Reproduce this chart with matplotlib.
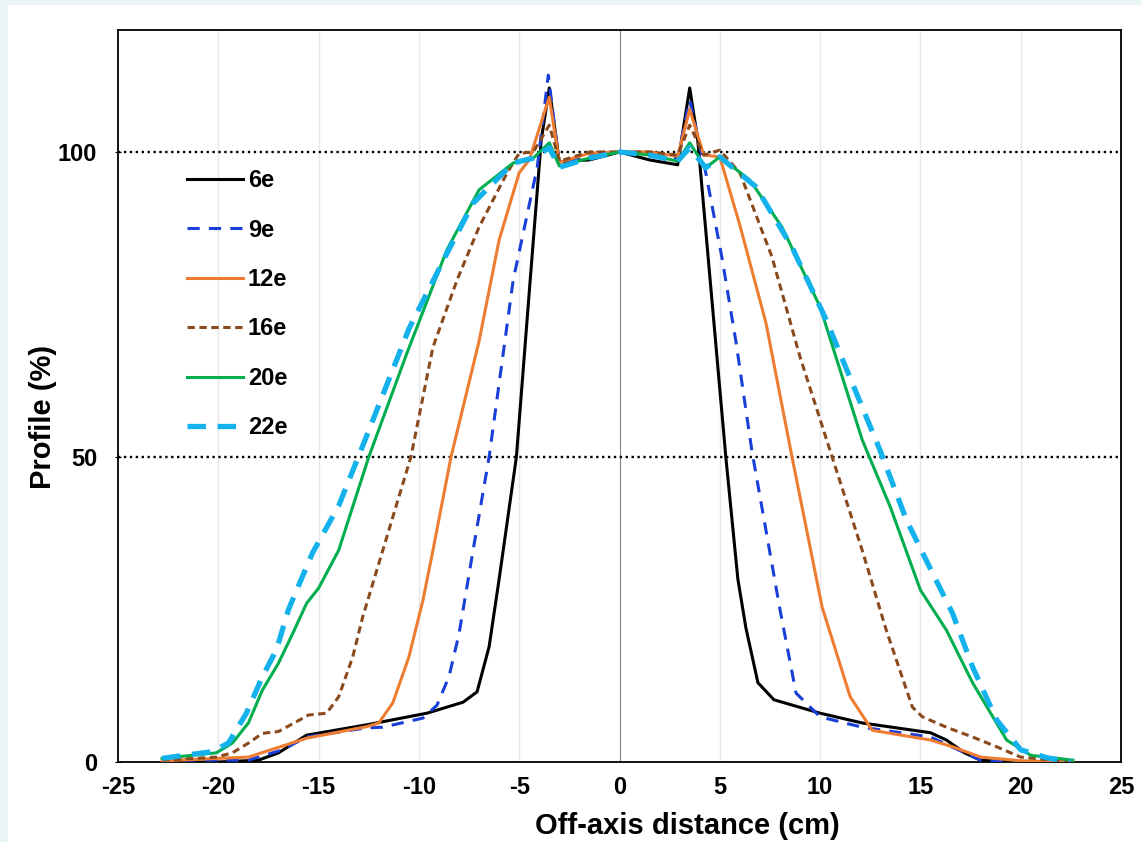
import matplotlib
matplotlib.use("Agg")
import matplotlib.pyplot as plt
from matplotlib.patches import Rectangle

plt.rcParams['font.family'] = ['Liberation Sans', 'DejaVu Sans']

# ---- data ----
x_6e = [-22.5, -20, -18, -17, -15.6, -12.6, -9.6, -7.8, -7.1, -6.5, -6.0, -5.14, -4.5, -3.9, -3.5, -3.0,
        -1.5, 0, 1.5, 2.9, 3.5, 3.9, 4.6, 5.3, 5.9, 6.3, 6.9, 7.7, 10, 12.1, 15.5, 16.3, 17.2, 18, 20, 22.5]
y_6e = [0, 0, 0.3, 1.5, 4.4, 6.1, 8.0, 9.8, 11.5, 18.9, 30, 50, 77, 102, 110.5, 98.4,
        98.7, 100, 98.7, 97.9, 110.5, 102, 76, 50, 30, 22, 13, 10.2, 8, 6.4, 4.8, 3.6, 1.5, 0.3, 0, 0]

x_9e = [-22.8, -18.5, -16.8, -15.6, -12.6, -11.8, -9.8, -9.1, -8.5, -8.0, -7.3, -6.5, -5.3, -4.1, -3.55, -3.0,
        -1.5, 0, 1.5, 2.9, 3.5, 4.3, 5.1, 5.8, 6.6, 8.0, 8.8, 10.0, 12.1, 15.5, 18.0, 20, 22.6]
y_9e = [0.3, 0.3, 2, 4.1, 5.6, 5.7, 7.2, 9.3, 14, 21, 34.7, 50, 79, 97.5, 112.6, 98,
        99.5, 100, 99.8, 99, 108.5, 96.6, 82.8, 69, 51, 25, 11.3, 7.4, 5.7, 4.1, 0.3, 0, 0]

x_12e = [-22.8, -18.5, -15.6, -12.6, -12.0, -11.3, -10.5, -9.8, -9.3, -8.4, -7.0, -6.0, -5.0, -4.5, -3.5, -3.0,
         -1.5, 0, 1.5, 2.9, 3.5, 4.2, 5.0, 6.0, 7.3, 8.6, 10.1, 11.5, 12.6, 15.5, 16.6, 18.0, 20, 22.6]
y_12e = [0.2, 0.8, 3.9, 5.8, 6.4, 9.7, 17.2, 26.5, 34.7, 50, 69, 85.6, 96.6, 98.7, 109, 98.3,
         99.8, 100, 100, 99.3, 107, 99.5, 99.2, 88, 72, 50, 25.4, 10.7, 5.2, 3.6, 2.5, 0.8, 0.2, 0]

x_16e = [-22.8, -20.1, -19.3, -18.5, -17.8, -17.0, -15.5, -14.6, -14.0, -13.3, -12.8, -11.8, -10.4, -9.3, -8.1,
         -7.0, -5.6, -5.0, -4.3, -3.5, -3.0, -1.5, 0, 1.5, 2.9, 3.5, 4.2, 5.0, 6.0, 7.6, 9.0, 10.6, 12.1, 13.3,
         14.6, 15.1, 16.3, 17.6, 18.8, 20.0, 22.6]
y_16e = [0.3, 0.8, 1.5, 3.1, 4.7, 5.0, 7.7, 8.0, 10.7, 17.2, 23.8, 34.7, 50, 68, 79,
         87.7, 96.6, 99.8, 100, 104.4, 98.5, 100, 100, 100, 99.5, 104.4, 99.5, 100.3, 96.6, 82.8, 66.4, 50, 34.7, 21.6,
         9.0, 7.4, 5.7, 4.1, 2.5, 0.8, 0]

x_20e = [-22.8, -20.1, -19.3, -18.5, -17.8, -17.0, -16.3, -15.6, -15.0, -14.0, -12.5, -10.6, -8.6, -7.0, -5.3,
         -4.3, -3.5, -3.0, -1.5, 0, 1.5, 2.9, 3.5, 4.3, 5.0, 6.5, 8.1, 10.0, 12.1, 13.5, 15.0, 16.3, 17.6, 19.3,
         20.5, 22.6]
y_20e = [0.6, 1.5, 3.1, 6.4, 11.8, 16.2, 21, 26, 28.5, 34.7, 50, 67, 84, 93.8, 98.2,
         99, 101.5, 97.7, 99, 100, 99.5, 98.5, 101.5, 97.4, 99.2, 95.4, 87.7, 74.6, 52.8, 41.8, 28.2, 21.6, 13, 3.6,
         1.1, 0.3]

x_22e = [-22.8, -20.3, -19.5, -18.6, -17.8, -17.1, -16.5, -15.6, -15.3, -14.0, -12.9, -10.5, -8.6, -7.3, -5.3,
         -4.3, -3.5, -3.0, -1.5, 0, 1.5, 2.9, 3.5, 4.3, 5.0, 6.8, 8.6, 10.3, 13.0, 14.3, 15.6, 16.6, 17.6, 18.8,
         20.0, 21.3, 22.5]
y_22e = [0.6, 1.7, 3.1, 8.0, 14, 18.4, 25, 32, 34.3, 42, 51, 71, 83.4, 91.6, 98.2,
         99, 100.7, 97.5, 99, 100, 99.5, 98.5, 100.7, 97.4, 99.2, 94.3, 84.4, 72.5, 51, 39.7, 31, 24.4, 15.6, 6.9,
         2, 0.7, 0]

labels = ['6e', '9e', '12e', '16e', '20e', '22e']
x_ticks = [-25, -20, -15, -10, -5, 0, 5, 10, 15, 20, 25]
y_ticks = [0, 50, 100]

# ---- figure ----
W, H = 1141, 842
fig = plt.figure(figsize=(W / 100, H / 100), dpi=100, facecolor='#e9f4f7')
bg = Rectangle((8 / W, 0), 1 - 8 / W, 1 - 5 / H, transform=fig.transFigure,
               facecolor='white', edgecolor='none', zorder=-10)
fig.add_artist(bg)
ax = fig.add_axes([118 / W, 80 / H, 1003 / W, 732 / H])
ax.set_zorder(1)
ax.set_facecolor('white')

for v in [-20, -15, -10, -5, 5, 10, 15, 20]:
    ax.axvline(v, color='#e8e8e8', lw=1.0, zorder=0)
ax.axvline(0, color='#808080', lw=0.8, zorder=0)
for v in [50, 100]:
    ax.axhline(v, color='black', lw=1.7, ls=(0, (1, 1.5)), zorder=1)

styles = [
    dict(color='black', lw=2.2, ls='-'),
    dict(color='#1a3fd8', lw=2.2, ls=(0, (4, 3))),
    dict(color='#ee7d31', lw=2.2, ls='-'),
    dict(color='#8a4a1d', lw=2.2, ls=(0, (2.4, 1.5))),
    dict(color='#00ae4f', lw=2.2, ls='-'),
    dict(color='#13b2ec', lw=3.8, ls=(0, (3.5, 2.2))),
]
series = [(x_6e, y_6e), (x_9e, y_9e), (x_12e, y_12e), (x_16e, y_16e), (x_20e, y_20e), (x_22e, y_22e)]
for (xs, ys), lab, st in zip(series, labels, styles):
    ax.plot(xs, ys, label=lab, zorder=3, **st)

ax.set_xlim(-25, 25)
ax.set_ylim(0, 120)
ax.set_xticks(x_ticks)
ax.set_xticklabels([str(t) for t in x_ticks])
ax.set_yticks(y_ticks)
ax.set_yticklabels([str(t) for t in y_ticks])
ax.tick_params(axis='x', length=0, pad=10, labelsize=17)
ax.tick_params(axis='y', length=4, direction='inout', pad=13, labelsize=17)
for lbl in ax.get_xticklabels() + ax.get_yticklabels():
    lbl.set_fontweight('bold')
for sp in ax.spines.values():
    sp.set_linewidth(1.3)
    sp.set_color('black')

fig.text(687 / W, 1 - 826 / H, 'Off-axis distance (cm)', fontsize=21, fontweight='bold',
         ha='center', va='center')
fig.text(43 / W, 1 - 417 / H, 'Profile (%)', fontsize=21, fontweight='bold',
         ha='center', va='center', rotation=90)

leg = ax.legend(loc='upper left', bbox_to_anchor=(0.069, 0.81), frameon=False,
                prop={'weight': 'bold', 'size': 17}, handlelength=2.35,
                handletextpad=0.22, labelspacing=1.12, borderpad=0, borderaxespad=0)

fig.savefig('out.png', dpi=100, facecolor=fig.get_facecolor())
